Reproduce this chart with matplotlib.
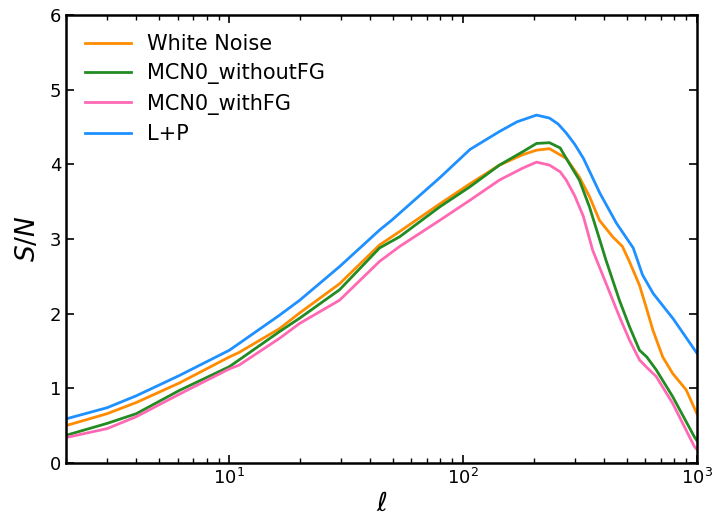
import numpy as np
import matplotlib
matplotlib.use('Agg')
import matplotlib.pyplot as plt

# S/N curves (multipole ell vs S/N)
ell_wn = [2, 3, 4, 6.1, 10, 11, 16.4, 20, 29.6, 43.9, 53.5, 79.4, 107, 143, 180, 206, 234,
          276, 314, 347, 383, 436, 480, 514, 568, 606, 648, 714, 787, 899, 1000]
sn_wn = [0.50, 0.66, 0.81, 1.07, 1.42, 1.48, 1.80, 2.01, 2.40, 2.92, 3.10, 3.47, 3.74, 3.99, 4.13, 4.19, 4.21,
         4.08, 3.83, 3.57, 3.25, 3.03, 2.90, 2.70, 2.38, 2.09, 1.78, 1.42, 1.20, 0.98, 0.66]

ell_wo = [2, 3, 4, 6.1, 10, 11, 16.4, 20, 29.6, 43.9, 53.5, 79.4, 107, 143, 180, 206, 234,
          260, 276, 314, 347, 383, 408, 466, 514, 568, 610, 669, 787, 975, 1000]
sn_wo = [0.37, 0.53, 0.66, 0.97, 1.29, 1.38, 1.76, 1.94, 2.32, 2.88, 3.03, 3.43, 3.70, 3.99, 4.17, 4.28, 4.29,
         4.22, 4.08, 3.79, 3.43, 3.00, 2.72, 2.18, 1.83, 1.51, 1.42, 1.25, 0.89, 0.35, 0.30]

ell_w = [2, 3, 4, 6.1, 10, 11, 16.4, 20, 29.6, 43.9, 53.5, 79.4, 107, 143, 180, 206, 234,
         260, 276, 300, 327, 358, 408, 466, 514, 568, 610, 669, 787, 975, 1000]
sn_w = [0.34, 0.46, 0.62, 0.92, 1.26, 1.31, 1.67, 1.87, 2.18, 2.70, 2.90, 3.25, 3.52, 3.79, 3.95, 4.03, 3.99,
        3.90, 3.79, 3.58, 3.30, 2.85, 2.41, 1.96, 1.65, 1.38, 1.28, 1.16, 0.80, 0.22, 0.18]

ell_lp = [2, 3, 4, 6.1, 10, 11, 16.4, 20, 29.6, 43.9, 49.4, 79.4, 107, 143, 170, 206, 234,
          255, 276, 300, 327, 385, 453, 534, 585, 650, 792, 1000]
sn_lp = [0.59, 0.74, 0.90, 1.17, 1.51, 1.60, 1.98, 2.18, 2.63, 3.12, 3.25, 3.82, 4.20, 4.44, 4.57, 4.66, 4.62,
         4.54, 4.42, 4.27, 4.08, 3.61, 3.21, 2.88, 2.52, 2.27, 1.93, 1.47]

labels = ['White Noise', 'MCN0_withoutFG', 'MCN0_withFG', 'L+P']
colors = ['darkorange', 'forestgreen', 'hotpink', 'dodgerblue']

#%%
fig = plt.figure(figsize=(7.17, 5.19), dpi=100)
ax = fig.add_axes([0.092, 0.108, 0.880, 0.863])

series = [(ell_wn, sn_wn), (ell_wo, sn_wo), (ell_w, sn_w), (ell_lp, sn_lp)]
for (x, y), lab, c in zip(series, labels, colors):
    ax.plot(x, y, color=c, lw=2.0, label=lab)

ax.set_xscale('log')
ax.set_xlim(2, 1000)
ax.set_ylim(0, 6)
ax.set_yticks(range(0, 7))

ax.tick_params(which='both', direction='in', top=True, right=True, labelsize=13)
ax.tick_params(which='major', length=6, width=1.2)
ax.tick_params(which='minor', length=3.5, width=1.0)
for sp in ax.spines.values():
    sp.set_linewidth(1.8)

ax.set_xlabel(r'$\ell$', fontsize=19, labelpad=2)
ax.set_ylabel(r'$S/N$', fontsize=19, labelpad=6)

ax.legend(loc='upper left', frameon=False, fontsize=15, handlelength=2.2,
          borderaxespad=0.5, labelspacing=0.45, handletextpad=0.8)

fig.savefig('out.png', dpi=100)
